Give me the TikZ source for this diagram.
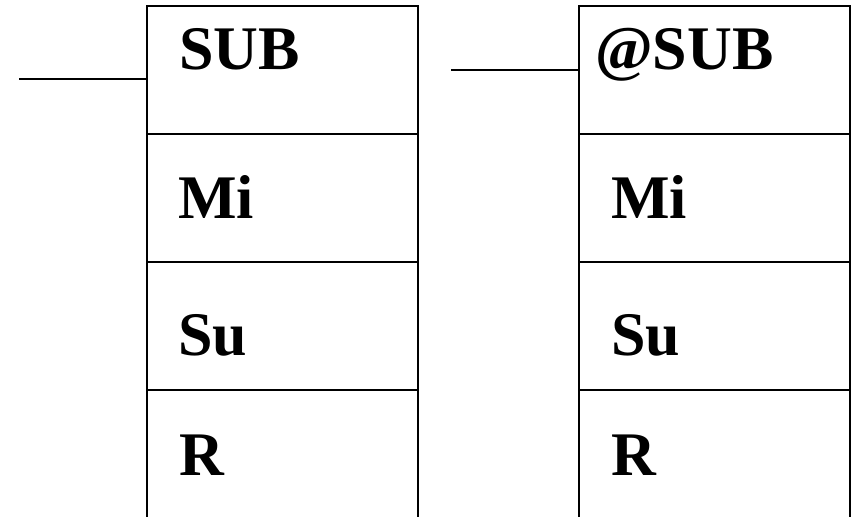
\documentclass[tikz,border=0pt]{standalone}
\usepackage{fontspec}
\setmainfont{Liberation Serif}
\begin{document}
\begin{tikzpicture}[x=1pt,y=-1pt,
  cell/.style={draw, line width=2pt, minimum width=271pt, minimum height=128pt, inner sep=0pt, outer sep=0pt, anchor=north west},
  lbl/.style={font=\fontsize{62}{62}\selectfont\bfseries, anchor=base west, inner sep=0pt},
  wire/.style={line width=2pt}]
\useasboundingbox (0,0) rectangle (855,517);
% left block
\node[cell] (a1) at (147,6) {};
\node[cell] (a2) at (147,134) {};
\node[cell] (a3) at (147,262) {};
\node[cell] (a4) at (147,390) {};
% right block
\node[cell] (b1) at (579,6) {};
\node[cell] (b2) at (579,134) {};
\node[cell] (b3) at (579,262) {};
\node[cell] (b4) at (579,390) {};
% labels
\node[lbl] (ta1) at (179,69) {SUB};
\node[lbl] (ta2) at (178,218) {Mi};
\node[lbl] (ta3) at (178,355) {Su};
\node[lbl] (ta4) at (179,475) {R};
\node[lbl] (tb1) at (595,69) {@SUB};
\node[lbl] (tb2) at (611,218) {Mi};
\node[lbl] (tb3) at (611,355) {Su};
\node[lbl] (tb4) at (611,475) {R};
% wires
\coordinate (la) at (19,79);
\coordinate (lb) at (451,70);
\draw[wire] (la) -- (a1.west |- la);
\draw[wire] (lb) -- (b1.west |- lb);
\end{tikzpicture}
\end{document}
